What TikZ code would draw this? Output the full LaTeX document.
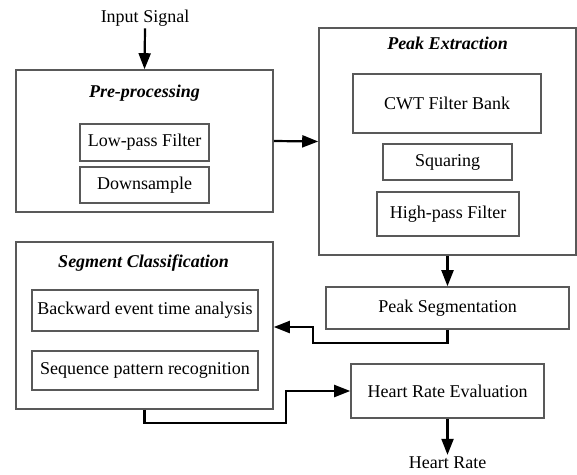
\documentclass[tikz,border=0pt]{standalone}
\usepackage{fontspec}
\setmainfont{Liberation Serif}
\usetikzlibrary{arrows.meta}
\begin{document}
\begin{tikzpicture}[x=1pt,y=-1pt,
  font=\fontsize{18}{20}\selectfont,
  box/.style={draw=black!65, line width=1.6pt, inner sep=0pt, align=center},
  ttl/.style={font=\fontsize{18}{20}\selectfont\bfseries\itshape, inner sep=0pt},
  lbl/.style={inner sep=2pt},
  arr/.style={line width=2.2pt, -{Triangle[length=16pt,width=12pt]}}]
\useasboundingbox (0,0) rectangle (577,474);
% Pre-processing
\node[box, minimum width=257pt, minimum height=142pt] (pre) at (144.5,141) {};
\node[ttl] (pret) at (144.5,93) {Pre-processing};
\node[box, minimum width=129pt, minimum height=37pt] (lpf) at (144.5,142.5) {Low-pass Filter};
\node[box, minimum width=129pt, minimum height=36pt] (ds) at (144.5,185) {Downsample};
% Peak extraction
\node[box, minimum width=257pt, minimum height=227pt] (peak) at (447.5,141.5) {};
\node[ttl] (peakt) at (447.5,43) {Peak Extraction};
\node[box, minimum width=188pt, minimum height=59pt] (cwt) at (447,103.5) {CWT Filter Bank};
\node[box, minimum width=129pt, minimum height=36pt] (sq) at (447.5,162) {Squaring};
\node[box, minimum width=142pt, minimum height=44pt] (hpf) at (448,214) {High-pass Filter};
% Segment classification
\node[box, minimum width=257pt, minimum height=167pt] (seg) at (144.5,325.5) {};
\node[ttl] (segt) at (143.5,263) {Segment Classification};
\node[box, minimum width=226pt, minimum height=41pt] (bwd) at (145,310.5) {Backward event time analysis};
\node[box, minimum width=226pt, minimum height=39pt] (seq) at (145,370.5) {Sequence pattern recognition};
% Peak segmentation and HR
\node[box, minimum width=243pt, minimum height=42pt] (ps) at (447.5,308) {Peak Segmentation};
\node[box, minimum width=193pt, minimum height=54pt] (hre) at (447.5,391) {Heart Rate Evaluation};
% texts
\node[lbl] (in) at (145,18) {Input Signal};
\node[lbl] (out) at (447.5,463) {Heart Rate};
% connectors
\coordinate (fb) at (313,327);
\coordinate (fc) at (286,391);
\draw[arr] (in.south) -- (pre.north);
\draw[arr] (pre.east) -- (peak.west);
\draw[arr] (peak.south) -- (ps.north);
\draw[arr] (ps.south) -- ++(0,13) -| (fb) -- (fb -| seg.east);
\draw[arr] (seg.south) -- ++(0,13) -| (fc) -- (hre.west);
\draw[arr] (hre.south) -- (out.north);
\end{tikzpicture}
\end{document}
